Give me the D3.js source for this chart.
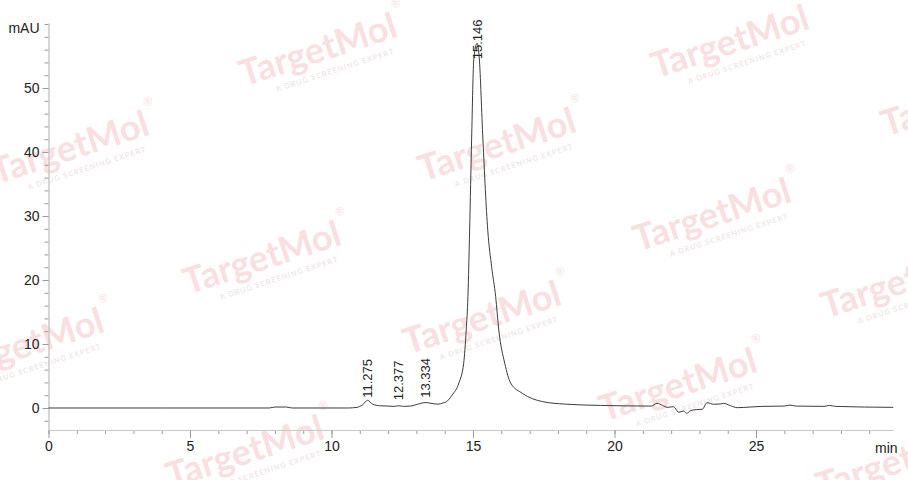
<!DOCTYPE html>
<html>
<head>
<meta charset="utf-8">
<script src="https://cdn.jsdelivr.net/npm/d3@7"></script>
<style>
  body { margin: 0; background: #fff; }
  svg { display: block; font-family: "Liberation Sans", Arial, sans-serif; }
</style>
</head>
<body>
<svg id="chart" width="908" height="480"></svg>
<script>
// Retention time (min) and absorbance (mAU)
var times = [0, 4, 7.8, 8.0, 8.4, 8.6, 10.6, 10.9, 11.1, 11.275, 11.45, 11.7, 12.0, 12.2, 12.377,
    12.55, 12.8, 13.05, 13.334, 13.55, 13.75, 13.95, 14.05, 14.26, 14.5, 14.67, 14.76, 14.82,
    14.88, 14.95, 15.03, 15.146, 15.22, 15.35, 15.52, 15.66, 15.8, 15.91, 16.12, 16.33, 16.74,
    17.45, 18.27, 19.5, 21.3, 21.5, 21.7, 21.86, 22.08, 22.27, 22.44, 22.54, 22.7, 22.9, 23.1,
    23.27, 23.5, 23.75, 23.85, 24.1, 24.34, 24.8, 25.2, 26.0, 26.2, 26.4, 27.4, 27.6, 27.8, 29.85];
var signal = [0, 0, 0, 0.15, 0.15, 0, 0, 0.1, 0.5, 1.2, 0.6, 0.35, 0.3, 0.25, 0.35,
    0.25, 0.3, 0.6, 0.85, 0.7, 0.6, 0.8, 0.95, 2.0, 3.9, 7.0, 12.2, 17.4,
    27.8, 41.9, 54.7, 57.0, 54.7, 41.9, 27.8, 22.0, 17.4, 12.2, 7.0, 3.9, 2.3,
    1.0, 0.6, 0.4, 0.3, 0.73, 0.4, 0.1, 0.2, -0.67, -0.47, -0.83, -0.4, -0.25, -0.2,
    0.83, 0.58, 0.63, 0.73, 0.35, 0.05, 0.15, 0.25, 0.3, 0.45, 0.3, 0.25, 0.4, 0.25, 0.1];

// Integrated peaks and where their labels start (mAU)
var peakTimes = [11.275, 12.377, 13.334, 15.146];
var peakNames = ["11.275", "12.377", "13.334", "15.146"];
var peakLabelAt = [1.6, 1.2, 1.6, 54.5];

// Axis ticks
var xMajor = [0, 5, 10, 15, 20, 25];
var xMinor = d3.range(0, 30, 1);
var yMajor = [0, 10, 20, 30, 40, 50];
var yMinor = d3.range(-2, 61, 2);

// Watermark centres (decoration)
var marks = [[318, 50], [730, 42], [70, 148], [497, 145], [960, 100], [712, 215], [262, 258],
    [900, 282], [25, 345], [482, 318], [678, 385], [245, 452], [895, 462]];

var svg = d3.select("#chart");

var x = d3.scaleLinear().domain([0, 29.85]).range([48.5, 893.3]);
var y = d3.scaleLinear().domain([-3.44, 60.16]).range([430, 23]);

// Watermarks sit behind everything
var wm = svg.append("g").attr("class", "watermarks");
marks.forEach(function(m) {
    var g = wm.append("g")
        .attr("transform", `translate(${m[0]},${m[1]}) rotate(-18)`);
    g.append("text")
        .attr("text-anchor", "middle")
        .attr("y", 12)
        .attr("font-family", "Lato, sans-serif")
        .attr("font-weight", "bold")
        .attr("font-size", 36)
        .attr("fill", "#f9dfdf")
        .text("TargetMol");
    g.append("text")
        .attr("x", 84)
        .attr("y", -16)
        .attr("font-size", 12)
        .attr("fill", "#f9dfdf")
        .text("®");
    g.append("text")
        .attr("text-anchor", "middle")
        .attr("x", 10)
        .attr("y", 27)
        .attr("font-family", "Lato, sans-serif")
        .attr("font-weight", "bold")
        .attr("font-size", 7.5)
        .attr("letter-spacing", 1)
        .attr("fill", "#efe7e7")
        .text("A DRUG SCREENING EXPERT");
});

// Axes: minor and major ticks drawn separately
function styleAxis(g) {
    g.select(".domain").attr("stroke", "#c8c8c8");
    g.selectAll(".tick line").attr("stroke", "#9a9a9a");
    g.selectAll(".tick text").attr("fill", "#222").attr("font-size", 14);
}

svg.append("g")
    .attr("transform", "translate(0,430)")
    .call(d3.axisBottom(x).tickValues(xMinor).tickSize(4).tickSizeOuter(0).tickFormat(""))
    .call(styleAxis);
svg.append("g")
    .attr("transform", "translate(0,430)")
    .call(d3.axisBottom(x).tickValues(xMajor).tickSize(8).tickSizeOuter(0).tickPadding(3))
    .call(styleAxis);

svg.append("g")
    .attr("transform", "translate(48.5,0)")
    .call(d3.axisLeft(y).tickValues(yMinor).tickSize(4).tickSizeOuter(0).tickFormat(""))
    .call(styleAxis);
svg.append("g")
    .attr("transform", "translate(48.5,0)")
    .call(d3.axisLeft(y).tickValues(yMajor).tickSize(6).tickSizeOuter(0).tickPadding(3))
    .call(styleAxis);

// Unit labels
svg.append("text")
    .attr("x", 39.5).attr("y", 33)
    .attr("text-anchor", "end")
    .attr("font-size", 14).attr("fill", "#222")
    .text("mAU");
svg.append("text")
    .attr("x", 875).attr("y", 453)
    .attr("font-size", 14).attr("fill", "#222")
    .text("min");

// Chromatogram trace
var line = d3.line()
    .x(function(d, i) { return x(times[i]); })
    .y(function(d) { return y(d); })
    .curve(d3.curveMonotoneX);

svg.append("path")
    .datum(signal)
    .attr("fill", "none")
    .attr("stroke", "#3c3c3c")
    .attr("stroke-width", 1)
    .attr("d", line);

// Peak retention-time labels, rotated
svg.selectAll(".peak-label")
    .data(peakTimes)
    .join("text")
    .attr("class", "peak-label")
    .attr("transform", function(d, i) {
        return `translate(${x(d)},${y(peakLabelAt[i])}) rotate(-90)`;
    })
    .attr("dy", "0.35em")
    .attr("font-size", 13)
    .attr("fill", "#222")
    .text(function(d, i) { return peakNames[i]; });
</script>
</body>
</html>
